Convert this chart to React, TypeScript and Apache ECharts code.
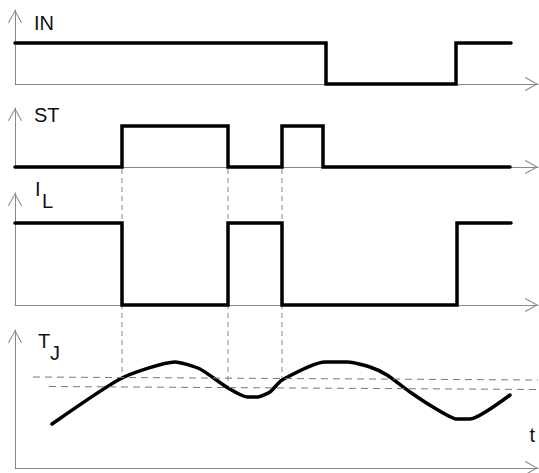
import React, { useEffect, useRef } from "react";
import * as echarts from "echarts";

// ---- data (time in arbitrary units along a common time axis) ----
const T_MAX = 523;
const inTimes = [0, 311, 441, 496];
const inLevels = [1, 0, 1, 1];
const stTimes = [0, 107, 213, 267, 308, 495];
const stLevels = [0, 1, 0, 1, 0, 0];
const ilTimes = [0, 107, 213, 267, 442, 496];
const ilLevels = [1, 0, 1, 0, 1, 1];
const tjTimes = [37, 107, 160, 185, 213, 232, 242, 255, 267, 310, 333, 355, 372, 395, 418, 442, 455, 495];
const tjValues = [44, 90, 106, 99, 80, 71, 71, 76, 88, 106, 106, 101, 93, 76, 61, 49, 49, 73];
const tjUpper = [[18, 91], [523, 88]];
const tjLower = [[34, 81.5], [523, 78.5]];
const labels = ["IN", "ST", "I", "T"];
const subLabels = ["", "", "L", "J"];

// ---- layout ----
const LEFT = 15;
const RIGHT = 1;
const panels = [
  { top: 10, bottom: 84, high: 43 },
  { top: 108, bottom: 167, high: 126 },
  { top: 193, bottom: 305, high: 223 },
  { top: 330, bottom: 468, high: 0 },
];
const AXIS_COLOR = "#888";
const ARROW = "path://M7 0L14 12.4L13.1 13L7 2L0.9 13L0 12.4Z";
const ARROW_SIZE = [14, 13];
const FONT = "Liberation Sans, Arial, sans-serif";
const TEXT_COLOR = "#111";

function zip(a: number[], b: number[]) {
  return a.map((v, i) => [v, b[i]]);
}

function tjAt(t: number) {
  for (let i = 0; i < tjTimes.length - 1; i++) {
    if (t >= tjTimes[i] && t <= tjTimes[i + 1]) {
      const f = (t - tjTimes[i]) / (tjTimes[i + 1] - tjTimes[i]);
      return tjValues[i] + f * (tjValues[i + 1] - tjValues[i]);
    }
  }
  return tjValues[tjValues.length - 1];
}

export default function App() {
  const ref = useRef<HTMLDivElement>(null);
  useEffect(() => {
    if (!ref.current) return;
    const chart = echarts.init(ref.current, undefined, { renderer: "svg" });

    const grids = panels.map((p) => ({
      left: LEFT,
      right: RIGHT,
      top: p.top,
      height: p.bottom - p.top,
    }));
    const axisLine = () => ({
      show: true,
      onZero: false,
      lineStyle: { color: AXIS_COLOR, width: 1 },
      symbol: ["none", ARROW],
      symbolSize: ARROW_SIZE,
      symbolOffset: [0, -ARROW_SIZE[1] / 2],
    });
    const xAxes = panels.map((_, i) => ({
      gridIndex: i,
      type: "value",
      min: 0,
      max: T_MAX,
      axisLine: axisLine(),
      axisTick: { show: false },
      axisLabel: { show: false },
      splitLine: { show: false },
    }));
    const yAxes = panels.map((p, i) => ({
      gridIndex: i,
      type: "value",
      min: 0,
      max: i === 3 ? p.bottom - p.top : (p.bottom - p.top) / (p.bottom - p.high),
      axisLine: axisLine(),
      axisTick: { show: false },
      axisLabel: { show: false },
      splitLine: { show: false },
    }));

    const lineStyle = { color: "#000", width: 3.5, cap: "round", join: "miter" };
    const digital = [
      zip(inTimes, inLevels),
      zip(stTimes, stLevels),
      zip(ilTimes, ilLevels),
    ];
    const series: any[] = digital.map((d, i) => ({
      type: "line",
      xAxisIndex: i,
      yAxisIndex: i,
      step: "end",
      data: d,
      showSymbol: false,
      clip: false,
      lineStyle,
    }));
    series.push({
      type: "line",
      xAxisIndex: 3,
      yAxisIndex: 3,
      data: zip(tjTimes, tjValues),
      smooth: 0.2,
      showSymbol: false,
      clip: false,
      lineStyle,
      markLine: {
        silent: true,
        symbol: "none",
        label: { show: false },
        lineStyle: { type: [7, 5], color: "#777", width: 1 },
        data: [
          [{ coord: tjUpper[0] }, { coord: tjUpper[1] }],
          [{ coord: tjLower[0] }, { coord: tjLower[1] }],
        ],
      },
    });

    const textEl = (text: string, x: number, y: number) => ({
      type: "text",
      x,
      y,
      silent: true,
      style: {
        text,
        fill: TEXT_COLOR,
        font: `20px ${FONT}`,
        textAlign: "left",
        textVerticalAlign: "middle",
      },
    });
    const texts = [
      textEl(labels[0], 34, 22.5),
      textEl(labels[1], 34, 114.5),
      textEl(labels[2], 35, 189),
      textEl(subLabels[2], 42, 201),
      textEl(labels[3], 38, 341),
      textEl(subLabels[3], 50, 353),
      textEl("t", 529.5, 435),
    ];

    chart.setOption({
      animation: false,
      grid: grids,
      xAxis: xAxes,
      yAxis: yAxes,
      series,
      graphic: texts,
    });

    // dashed connectors from ST edges down to the TJ curve
    const edges = stTimes
      .filter((t, i) => i > 0 && stLevels[i] !== stLevels[i - 1])
      .slice(0, 3);
    const connectors = edges.map((t) => {
      const p1 = chart.convertToPixel({ gridIndex: 1 }, [t, 0]) as number[];
      const p2 = chart.convertToPixel({ gridIndex: 3 }, [t, tjAt(t)]) as number[];
      return {
        type: "line",
        silent: true,
        shape: { x1: p1[0], y1: p1[1] + 2, x2: p2[0], y2: p2[1] },
        style: { stroke: "#888", lineWidth: 1, lineDash: [5, 4] },
      };
    });
    chart.setOption({ graphic: [...texts, ...connectors] });

    return () => chart.dispose();
  }, []);
  return (
    <div
      ref={ref}
      style={{ position: "fixed", left: 0, top: 0, width: 539, height: 473, background: "#fff" }}
    />
  );
}
